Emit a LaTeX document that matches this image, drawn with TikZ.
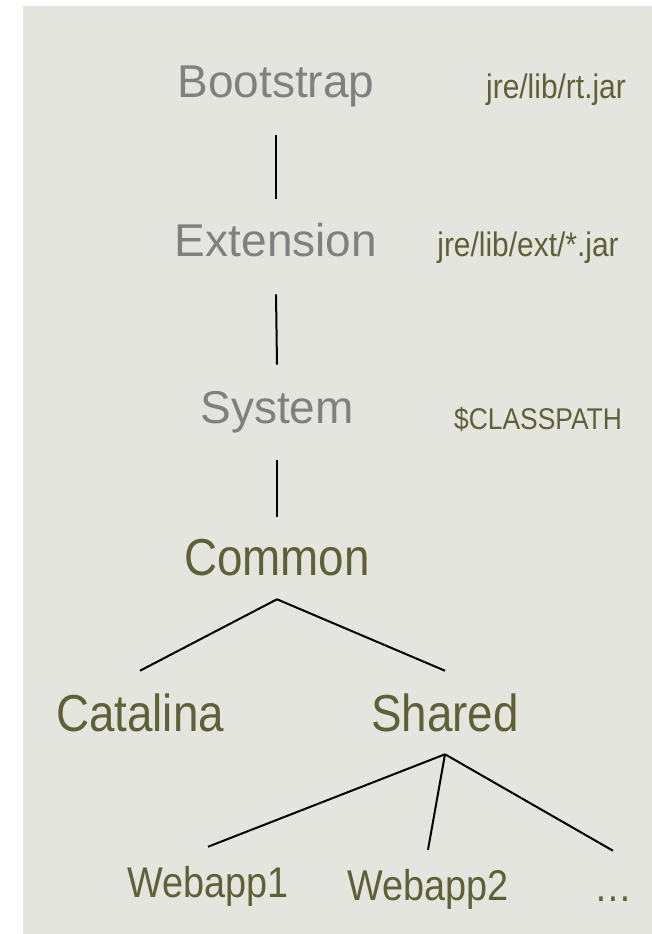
\documentclass[tikz,border=0pt]{standalone}
\usepackage{fontspec}
\setmainfont{Liberation Sans}
\newfontfamily\narrowfont[FakeStretch=0.88]{Liberation Sans}
\definecolor{loaderBack}{HTML}{E5E5E0}
\definecolor{loaderGray}{HTML}{808080}
\definecolor{loaderOlive}{HTML}{5E6136}

\begin{document}
\begin{tikzpicture}[x=0.75pt,y=-0.75pt, inner sep=0pt,
    jvm/.style={anchor=base, text=loaderGray, font=\fontsize{34.5pt}{34.5pt}\selectfont, text height=43.5pt, text depth=27.75pt},
    tomcat/.style={anchor=base, text=loaderOlive, font=\narrowfont\fontsize{39pt}{39pt}\selectfont, text height=45pt, text depth=17.25pt},
    webapp/.style={anchor=base, text=loaderOlive, font=\narrowfont\fontsize{32.25pt}{32.25pt}\selectfont, text height=37.5pt},
    jarpath/.style={anchor=base, text=loaderOlive, font=\narrowfont\fontsize{25.5pt}{25.5pt}\selectfont},
    branch/.style={line width=1.5pt, black}]
    \useasboundingbox (0,0) rectangle (652,934);
    \fill[loaderBack] (23,6) rectangle (652,934);
    % JVM loaders
    \node[jvm] (boot) at (276,98) {Bootstrap};
    \node[jvm] (ext) at (276,257) {Extension};
    \node[jvm] (sys) at (277,423) {System};
    \node[jarpath] (rtjar) at (556,99) {jre/lib/rt.jar};
    \node[jarpath] (extjar) at (528,257) {jre/lib/ext/*.jar};
    \node[jarpath, font=\narrowfont\fontsize{22.5pt}{22.5pt}\selectfont] (classpath) at (538,429) {\$CLASSPATH};
    % Tomcat loaders
    \node[tomcat, text height=43.5pt, text depth=18pt] (common) at (277,575) {Common};
    \node[tomcat] (catalina) at (140,731) {Catalina};
    \node[tomcat] (shared) at (445,731) {Shared};
    \node[webapp] (webone) at (208,897) {Webapp1};
    \node[webapp] (webtwo) at (428,900) {Webapp2};
    \node[webapp] (webmore) at (613,901) {…};
    % tree
    \draw[branch] (boot.south) -- (ext.north);
    \draw[branch] (ext.south) -- (sys.north);
    \draw[branch] (sys.south) -- (common.north);
    \draw[branch] (common.south) -- (catalina.north);
    \draw[branch] (common.south) -- (shared.north);
    \draw[branch] (shared.south) -- (webone.north);
    \draw[branch] (shared.south) -- (webtwo.north);
    \draw[branch] (shared.south) -- (webmore.north);
\end{tikzpicture}
\end{document}
